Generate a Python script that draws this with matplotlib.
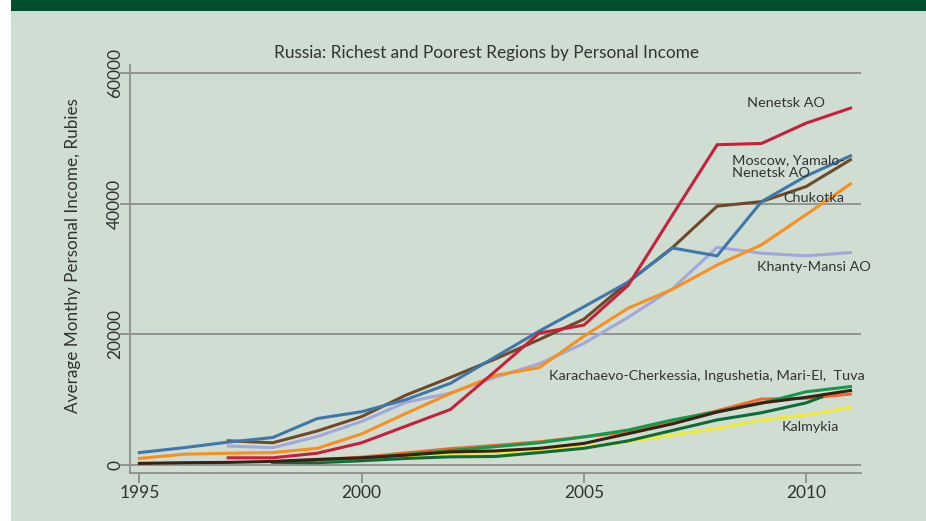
import matplotlib
matplotlib.use("Agg")
import matplotlib.pyplot as plt
from matplotlib.patches import Rectangle

plt.rcParams['font.family'] = ['Lato', 'DejaVu Sans']

# ---------------- data ----------------
years_full = [1995, 1996, 1997, 1998, 1999, 2000, 2001, 2002, 2003, 2004, 2005, 2006, 2007, 2008, 2009, 2010, 2011]
years_97 = years_full[2:]
years_98 = years_full[3:]
years_99 = years_full[4:]
years_00 = years_full[5:]
years_dkgreen = [1998, 1999, 2000, 2001, 2002, 2003, 2004, 2005, 2006, 2007, 2008, 2009, 2010, 2010.35]

moscow = [1900, 2650, 3500, 4200, 7100, 8150, 10000, 12500, 16500, 20500, 24200, 28000, 33200, 32000, 40300, 44200, 47300]
nenetsk = [1100, 1100, 1800, 3400, 5950, 8500, 14300, 20200, 21400, 27500, 38300, 49000, 49200, 52300, 54600]
chukotka = [3700, 3400, 5200, 7400, 10700, 13400, 16200, 19200, 22300, 28000, 33300, 39600, 40300, 42600, 46700]
khanty = [2900, 2650, 4350, 6650, 9600, 11000, 13400, 15500, 18600, 22600, 27000, 33300, 32400, 32000, 32500]
yamalo = [1000, 1650, 1800, 1900, 2550, 4750, 7900, 10950, 13700, 14900, 19700, 24000, 26900, 30600, 33700, 38300, 43000]
karach = [500, 800, 1200, 1850, 2500, 3000, 3550, 4300, 5050, 6750, 8300, 10100, 10200, 10850]
ingush = [650, 1000, 1600, 2200, 2800, 3400, 4300, 5350, 6900, 8150, 9450, 11200, 12000]
mari = [250, 350, 400, 550, 850, 1100, 1500, 2000, 2150, 2550, 3300, 4800, 6300, 8100, 9500, 10350, 11400]
tuva = [400, 350, 650, 1000, 1250, 1300, 1900, 2550, 3700, 5300, 6900, 8000, 9500, 10400]
kalmykia = [900, 1200, 1600, 1900, 2300, 2800, 3550, 4600, 5600, 6900, 7650, 8800]

x_ticks = [1995, 2000, 2005, 2010]
y_ticks = [0, 20000, 40000, 60000]

title = "Russia: Richest and Poorest Regions by Personal Income"
ylabel = "Average Monthy Personal Income, Rubies"

# ---------------- figure ----------------
W, H = 926, 521
fig = plt.figure(figsize=(W / 100, H / 100), dpi=100, facecolor='white')
bg = '#D0DDD3'
fig.patches.append(Rectangle((11 / W, 0), 1 - 11 / W, 1, transform=fig.transFigure,
                             facecolor=bg, edgecolor='none', zorder=-10))
fig.patches.append(Rectangle((11 / W, (H - 11) / H), 1 - 11 / W, 11 / H, transform=fig.transFigure,
                             facecolor='#005030', edgecolor='none', zorder=-9))

left, right = 130 / W, 860.7 / W
bottom, top = (H - 473) / H, (H - 65) / H
ax = fig.add_axes([left, bottom, right - left, top - bottom])
ax.set_facecolor('none')

lw = 2.2
series = [
    (years_98, karach, '#EE6A2E'),
    (years_00, kalmykia, '#EFEA35'),
    (years_dkgreen, tuva, '#0D6B37'),
    (years_99, ingush, '#139A48'),
    (years_full, mari, '#3B2114'),
    (years_97, khanty, '#A3A8DC'),
    (years_full, yamalo, '#F7901E'),
    (years_97, chukotka, '#6F4A28'),
    (years_full, moscow, '#3E78AA'),
    (years_97, nenetsk, '#C8203A'),
]
for xs, ys, c in series:
    ax.plot(xs, ys, color=c, lw=lw, solid_joinstyle='miter', zorder=3)

ax.set_xlim(1994.79, 2011.23)
ax.set_ylim(-1224, 61200)

gridc = '#8E8E8E'
for v in y_ticks:
    ax.axhline(v, color=gridc, lw=1.3, zorder=1)

for s in ['top', 'right']:
    ax.spines[s].set_visible(False)
for s in ['left', 'bottom']:
    ax.spines[s].set_color(gridc)
    ax.spines[s].set_linewidth(1.3)

ax.set_xticks(x_ticks)
ax.set_yticks(y_ticks)
ax.tick_params(axis='both', colors=gridc, length=7, width=1.3, labelcolor='#333333', labelsize=12.5)
ax.tick_params(axis='x', pad=2)
ax.tick_params(axis='y', pad=-2)
for lab in ax.get_yticklabels():
    lab.set_rotation(90)
    lab.set_va('center')

fig.text(73 / W, (H - 256) / H, ylabel, rotation=90, ha='center', va='center',
         fontsize=12.3, color='#333333')
fig.text(486.5 / W, (H - 53) / H, title, ha='center', va='center', fontsize=12.4, color='#333333')

txtc = '#333333'
fs = 10.4
ax.text(2008.67, 55400, "Nenetsk AO", ha='left', va='center', fontsize=fs, color=txtc, zorder=5)
ax.text(2008.33, 45600, "Moscow, Yamalo-\nNenetsk AO", ha='left', va='center', fontsize=fs,
        color=txtc, linespacing=1.1, zorder=5)
ax.text(2009.5, 40850, "Chukotka", ha='left', va='center', fontsize=fs, color=txtc, zorder=5)
ax.text(2008.89, 30340, "Khanty-Mansi AO", ha='left', va='center', fontsize=fs, color=txtc, zorder=5)
ax.text(2004.22, 13600, "Karachaevo-Cherkessia, Ingushetia, Mari-El,  Tuva", ha='left', va='center',
        fontsize=fs, color=txtc, zorder=5)
ax.text(2009.45, 5860, "Kalmykia", ha='left', va='center', fontsize=fs, color=txtc, zorder=5)

fig.savefig('out.png', dpi=100, facecolor='white')
